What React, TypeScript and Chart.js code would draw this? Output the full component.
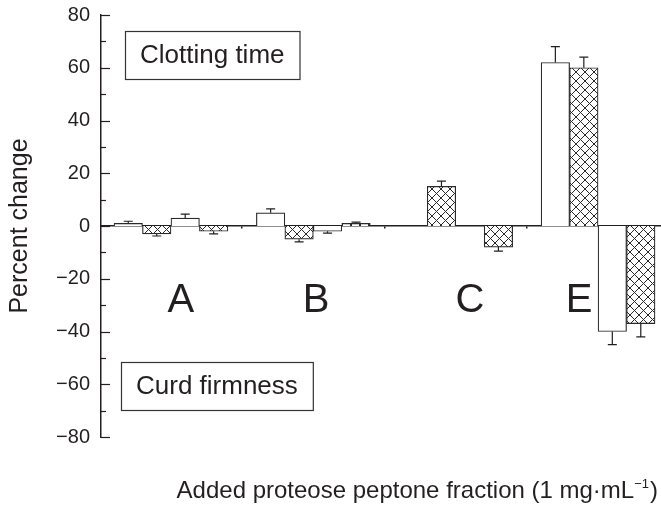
import React, { useEffect, useRef } from "react";
import { Chart, registerables } from "chart.js";
Chart.register(...registerables);

// ---- data ----
const groups = ["A", "B", "C", "E"];
const slotsPerGroup = 5; // 4 bars + 1 empty gap slot
// Clotting time (first pair of bars in each group)
const clotOpen = [1, 5, null, 62];
const clotOpenErr = [0.8, 1.5, null, 6];
const clotHatched = [-3, -5, 15, 60];
const clotHatchedErr = [0.8, 1, 2, 4];
// Curd firmness (second pair of bars in each group)
const curdOpen = [3, -2, null, -40];
const curdOpenErr = [1.5, 0.7, null, 5];
const curdHatched = [-2, 1, -8, -37];
const curdHatchedErr = [1, 0.5, 1.5, 5];
const yTickValues = [-80, -60, -40, -20, 0, 20, 40, 60, 80];
const groupGapTicks = [4.5, 9.5, 14.5];
const groupLabelPos = [2.35, 7.1, 12.5, 16.33];

const FONT = "'Liberation Sans', Arial, Helvetica, sans-serif";
const INK = "#231f20";

type Pt = { x: number; y: number; err: number };

function buildSeries(a: (number | null)[], ae: (number | null)[], slotA: number,
  b: (number | null)[], be: (number | null)[], slotB: number): Pt[] {
  const out: Pt[] = [];
  groups.forEach((_, g) => {
    if (a[g] != null) out.push({ x: g * slotsPerGroup + slotA + 0.5, y: a[g] as number, err: (ae[g] as number) || 0 });
    if (b[g] != null) out.push({ x: g * slotsPerGroup + slotB + 0.5, y: b[g] as number, err: (be[g] as number) || 0 });
  });
  return out.sort((p, q) => p.x - q.x);
}

function makeHatch(): CanvasPattern | string {
  const p = 9;
  const c = document.createElement("canvas");
  c.width = p;
  c.height = p;
  const g = c.getContext("2d");
  if (!g) return "#ccc";
  g.fillStyle = "#fff";
  g.fillRect(0, 0, p, p);
  g.strokeStyle = "#2a2a2a";
  g.lineWidth = 1;
  g.beginPath();
  for (const o of [-p, 0, p]) {
    g.moveTo(o, 0);
    g.lineTo(o + p, p);
    g.moveTo(o + p, 0);
    g.lineTo(o, p);
  }
  g.stroke();
  return g.createPattern(c, "repeat") || "#ccc";
}

const errorBarsPlugin = {
  id: "errorBars",
  afterDatasetsDraw(chart: any) {
    const ctx = chart.ctx;
    const ys = chart.scales.y;
    ctx.save();
    ctx.strokeStyle = INK;
    ctx.lineWidth = 1.2;
    chart.data.datasets.forEach((ds: any, i: number) => {
      const meta = chart.getDatasetMeta(i);
      meta.data.forEach((bar: any, j: number) => {
        const raw = ds.data[j] as Pt;
        if (!raw || !raw.err) return;
        const s = raw.y >= 0 ? 1 : -1;
        const y0 = ys.getPixelForValue(raw.y);
        const y1 = ys.getPixelForValue(raw.y + s * raw.err);
        ctx.beginPath();
        ctx.moveTo(bar.x, y0);
        ctx.lineTo(bar.x, y1);
        ctx.moveTo(bar.x - 4.5, y1);
        ctx.lineTo(bar.x + 4.5, y1);
        ctx.stroke();
      });
    });
    ctx.restore();
  },
};

const decorPlugin = {
  id: "decor",
  afterDraw(chart: any) {
    const ctx = chart.ctx;
    const ys = chart.scales.y;
    const xs = chart.scales.x;
    const area = chart.chartArea;
    ctx.save();
    // inward y ticks (major + minor)
    ctx.strokeStyle = INK;
    ctx.lineWidth = 1.2;
    for (let v = ys.min; v <= ys.max; v += 10) {
      const y = Math.round(ys.getPixelForValue(v)) + 0.5;
      const len = v % 20 === 0 ? 9 : 5;
      ctx.beginPath();
      ctx.moveTo(area.left, y);
      ctx.lineTo(area.left + len, y);
      ctx.stroke();
    }
    // group letters
    ctx.fillStyle = INK;
    ctx.font = `40px ${FONT}`;
    ctx.textAlign = "center";
    ctx.textBaseline = "alphabetic";
    groups.forEach((g, i) => {
      ctx.fillText(g, xs.getPixelForValue(groupLabelPos[i]), ys.getPixelForValue(-27) + 14.5);
    });
    // boxed labels
    const box = (text: string, left: number, top: number) => {
      ctx.font = `26px ${FONT}`;
      const w = ctx.measureText(text).width + 30;
      const h = 48;
      ctx.fillStyle = "#fff";
      ctx.fillRect(left, top, w, h);
      ctx.strokeStyle = "#333";
      ctx.lineWidth = 1.2;
      ctx.strokeRect(left + 0.5, top + 0.5, w, h);
      ctx.fillStyle = INK;
      ctx.textAlign = "center";
      ctx.textBaseline = "middle";
      ctx.fillText(text, left + w / 2, top + h / 2 + 1);
    };
    box("Clotting time", area.left + 24, area.top + 16);
    box("Curd firmness", area.left + 20, area.bottom - 75);
    // x title with superscript
    const main = "Added proteose peptone fraction (1 mg\u00b7mL";
    const sup = "\u22121";
    const end = ")";
    ctx.textBaseline = "alphabetic";
    ctx.textAlign = "left";
    ctx.font = `24px ${FONT}`;
    const wMain = ctx.measureText(main).width;
    const wEnd = ctx.measureText(end).width;
    ctx.font = `13px ${FONT}`;
    const wSup = ctx.measureText(sup).width;
    const right = chart.width - 3;
    const base = chart.height - 7;
    let x = right - (wMain + wSup + wEnd + 1);
    ctx.fillStyle = INK;
    ctx.font = `24px ${FONT}`;
    ctx.fillText(main, x, base);
    x += wMain;
    ctx.font = `13px ${FONT}`;
    ctx.fillText(sup, x, base - 10);
    x += wSup + 1;
    ctx.font = `24px ${FONT}`;
    ctx.fillText(end, x, base);
    ctx.restore();
  },
};

export default function App() {
  const ref = useRef<HTMLCanvasElement | null>(null);
  useEffect(() => {
    document.body.style.margin = "0";
    if (!ref.current) return;
    const hatch = makeHatch();
    const openData = buildSeries(clotOpen, clotOpenErr, 0, curdOpen, curdOpenErr, 2);
    const hatchData = buildSeries(clotHatched, clotHatchedErr, 1, curdHatched, curdHatchedErr, 3);
    const chart = new Chart(ref.current, {
      type: "bar",
      data: {
        datasets: [
          {
            label: "Open",
            data: openData as any,
            backgroundColor: "#fff",
            borderColor: "#2a2a2a",
            borderWidth: 1.2,
            borderSkipped: "start",
            grouped: false,
            categoryPercentage: 1,
            barPercentage: 1,
          },
          {
            label: "Hatched",
            data: hatchData as any,
            backgroundColor: hatch as any,
            borderColor: "#2a2a2a",
            borderWidth: 1.2,
            borderSkipped: "start",
            grouped: false,
            categoryPercentage: 1,
            barPercentage: 1,
          },
        ],
      },
      options: {
        animation: false,
        responsive: false,
        devicePixelRatio: 1,
        layout: { padding: { top: 15, bottom: 68, left: 0, right: 0 } },
        plugins: { legend: { display: false }, tooltip: { enabled: false } },
        scales: {
          x: {
            type: "linear",
            min: -0.457,
            max: 19.21,
            offset: false,
            position: { y: 0 } as any,
            afterBuildTicks: (s: any) => {
              s.ticks = groupGapTicks.map((v) => ({ value: v }));
            },
            ticks: { display: false },
            grid: { drawOnChartArea: false, offset: false, tickLength: 2, color: INK, lineWidth: 1.5 },
            border: { color: INK, width: 1.5 },
          },
          y: {
            type: "linear",
            min: -80,
            max: 80,
            afterBuildTicks: (s: any) => {
              s.ticks = yTickValues.map((v) => ({ value: v }));
            },
            afterFit: (s: any) => {
              s.width = 101;
              s.paddingTop = 0;
              s.paddingBottom = 0;
            },
            ticks: {
              padding: 11,
              color: INK,
              font: { family: FONT, size: 20 },
              callback: (v: any) => (Number(v) < 0 ? "\u2212" + Math.abs(Number(v)) : String(v)),
            },
            grid: { display: false, drawTicks: false },
            border: { color: INK, width: 1.5 },
            title: {
              display: true,
              text: "Percent change",
              color: INK,
              font: { family: FONT, size: 25 },
              padding: { top: 5, bottom: 0 },
            },
          },
        },
      },
      plugins: [errorBarsPlugin, decorPlugin],
    });
    return () => chart.destroy();
  }, []);
  return (
    <div style={{ width: 661, height: 505 }}>
      <canvas ref={ref} width={661} height={505} style={{ display: "block" }} />
    </div>
  );
}
